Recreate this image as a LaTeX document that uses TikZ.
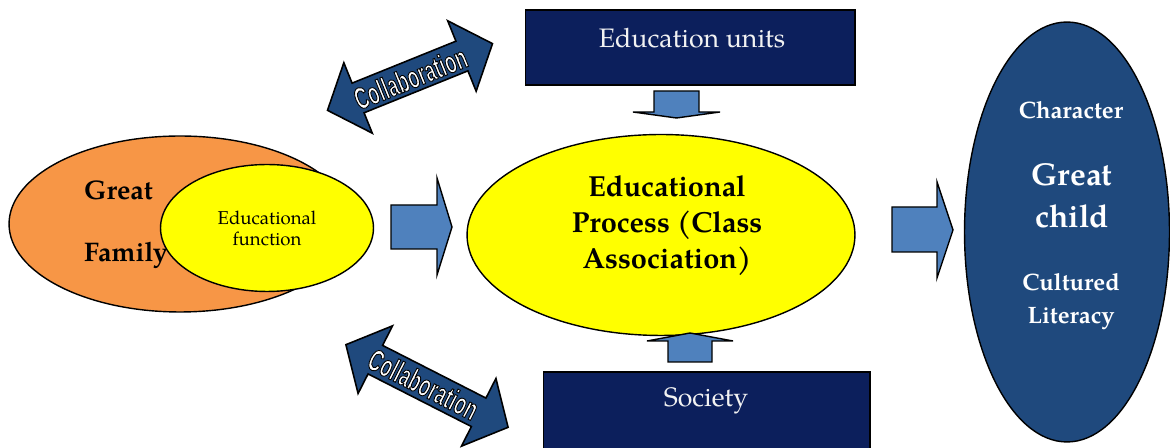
\documentclass[tikz,border=0pt]{standalone}
\usepackage{fontspec}
\setmainfont{TeX Gyre Pagella}
\newfontfamily\collabfont[FakeStretch=0.6]{Liberation Sans}
\usetikzlibrary{shapes.geometric}
\definecolor{navy}{HTML}{0C1F5C}
\definecolor{blockblue}{HTML}{4F81BD}
\definecolor{darkblue}{HTML}{1F497D}
\definecolor{orangefill}{HTML}{F79646}
\definecolor{yel}{HTML}{FFFF00}
\definecolor{lighttext}{HTML}{F2F2F2}
\newcommand{\outlinedtext}[1]{\special{pdf:literal direct 2 Tr 0.5 w 0 0 0 RG}#1\special{pdf:literal direct 0 Tr}}
\tikzset{
  navybox/.style={draw=black, line width=0.6pt, fill=navy, rectangle},
  ell/.style={draw=black, line width=0.8pt, ellipse, inner sep=0pt},
  blockarrow/.style={draw=black, line width=0.8pt, fill=blockblue, line join=miter},
  collabarrow/.style={draw=black, line width=0.9pt, fill=darkblue, line join=miter},
  boxtext/.style={text=lighttext, font=\fontsize{15.2}{17}\selectfont},
  bigtext/.style={font=\bfseries\fontsize{16.5}{20.5}\selectfont, align=center},
  whitebold/.style={text=white, font=\bfseries\fontsize{13.5}{19}\selectfont, align=center},
  collabtext/.style={text=white, font=\collabfont\bfseries\fontsize{17.5}{19}\selectfont},
}
\begin{document}
\begin{tikzpicture}[x=0.02cm,y=-0.02cm]
\useasboundingbox (0,0) rectangle (1170,448);
% top and bottom boxes
\node[navybox, minimum width=6.6cm, minimum height=1.5cm] (units) at (690,47.5) {};
\node[boxtext] (unitstext) at (692,38) {Education units};
\node[navybox, minimum width=6.54cm, minimum height=1.64cm] (society) at (706.5,413) {};
\node[boxtext] (societytext) at (706,401) {Society};
% left ellipses
\node[ell, fill=orangefill, minimum width=6.84cm, minimum height=3.52cm] (family) at (180,224) {};
\node[anchor=west, font=\bfseries\fontsize{15.3}{17}\selectfont] (great) at (78,190) {Great};
\node[anchor=west, font=\bfseries\fontsize{15.3}{17}\selectfont] (famtext) at (78,255) {Family};
\node[ell, fill=yel, minimum width=4.26cm, minimum height=2.54cm] (function) at (267,228) {};
\node[align=center, font=\fontsize{10.6}{12}\selectfont] (functext) at (267,228) {Educational\\function};
% central ellipse
\node[ell, fill=yel, minimum width=7.76cm, minimum height=4.02cm] (process) at (661,235) {};
\node[bigtext] (proctext) at (667,226) {Educational\\Process (Class\\Association)};
% right ellipse
\node[ell, fill=darkblue, minimum width=4.1cm, minimum height=8.4cm] (child) at (1067,232) {};
\node[whitebold] (character) at (1071,110) {Character};
\node[text=white, font=\bfseries\fontsize{18}{24}\selectfont, align=center] (greatchild) at (1072,196) {Great\\child};
\node[whitebold] (cultured) at (1071,301.5) {Cultured\\Literacy};
% block arrows
\draw[blockarrow] (391,205) -- (437,205) -- (437,178) -- (452,227) -- (437,275) -- (437,249) -- (391,249) -- cycle;
\draw[blockarrow] (892,207) -- (937,207) -- (937,182) -- (953,230) -- (937,278) -- (937,252) -- (892,252) -- cycle;
\draw[blockarrow] (654,91) -- (699,91) -- (699,112) -- (720,112) -- (676.5,118) -- (633,112) -- (654,112) -- cycle;
\draw[blockarrow] (668,362) -- (712,362) -- (712,341) -- (733,341) -- (690,333) -- (647,341) -- (668,341) -- cycle;
% collaboration arrows
\begin{scope}[shift={(410,77)}, rotate=22]
\draw[collabarrow] (-89,0) -- (-56,-38) -- (-56,-16) -- (56,-16) -- (56,-38) -- (89,0) -- (56,38) -- (56,16) -- (-56,16) -- (-56,38) -- cycle;
\node[collabtext, rotate=22] (collab1) at (0,1) {\outlinedtext{Collaboration}};
\end{scope}
\begin{scope}[shift={(427,386)}, rotate=-27]
\draw[collabarrow] (-91,0) -- (-58,-38) -- (-58,-16) -- (58,-16) -- (58,-38) -- (91,0) -- (58,38) -- (58,16) -- (-58,16) -- (-58,38) -- cycle;
\node[collabtext, rotate=-27] (collab2) at (-4,0) {\outlinedtext{Collaboration}};
\end{scope}
\end{tikzpicture}
\end{document}
